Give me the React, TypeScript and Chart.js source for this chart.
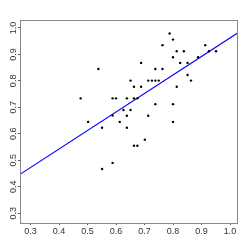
import React, { useEffect, useRef } from "react";
import { Chart, registerables } from "chart.js";

Chart.register(...registerables);

const XS = [
  0.476, 0.502, 0.538, 0.551, 0.551, 0.588, 0.6, 0.588, 0.588, 0.613,
  0.626, 0.638, 0.638, 0.638, 0.651, 0.651, 0.663, 0.663, 0.675, 0.663,
  0.675, 0.688, 0.688, 0.701, 0.713, 0.713, 0.726, 0.738, 0.75, 0.738,
  0.738, 0.763, 0.763, 0.788, 0.8, 0.8, 0.8, 0.8, 0.813, 0.813,
  0.825, 0.838, 0.851, 0.851, 0.863, 0.888, 0.913, 0.926, 0.951,
];
const YS = [
  0.734, 0.645, 0.845, 0.623, 0.467, 0.734, 0.734, 0.669, 0.49, 0.645,
  0.69, 0.734, 0.668, 0.623, 0.801, 0.69, 0.778, 0.734, 0.734, 0.555,
  0.555, 0.868, 0.778, 0.578, 0.801, 0.668, 0.801, 0.801, 0.801, 0.845,
  0.712, 0.935, 0.845, 0.979, 0.956, 0.889, 0.712, 0.645, 0.912, 0.778,
  0.868, 0.912, 0.868, 0.822, 0.801, 0.889, 0.935, 0.912, 0.912,
];
const INTERCEPT = 0.263;
const SLOPE = 0.699;
const X_TICKS = [0.3, 0.4, 0.5, 0.6, 0.7, 0.8, 0.9, 1.0];
const Y_TICKS = [0.3, 0.4, 0.5, 0.6, 0.7, 0.8, 0.9, 1.0];
const X_RANGE = [0.263, 1.028];
const Y_RANGE = [0.263, 1.03];

const FONT = "'Liberation Sans', Arial, sans-serif";
const TEXT_COLOR = "#333333";

export default function App() {
  const ref = useRef<HTMLCanvasElement | null>(null);
  useEffect(() => {
    if (!ref.current) return;
    const points = XS.map((x, i) => ({ x, y: YS[i] }));
    const line = X_RANGE.map((x) => ({ x, y: INTERCEPT + SLOPE * x }));

    const boxPlugin = {
      id: "box",
      afterDraw(chart: any) {
        const { ctx, chartArea } = chart;
        const ys = chart.scales.y;
        ctx.save();
        ctx.strokeStyle = "#888888";
        ctx.lineWidth = 1;
        ctx.strokeRect(
          Math.round(chartArea.left) + 0.5,
          Math.round(chartArea.top) + 0.5,
          Math.round(chartArea.right - chartArea.left) - 1,
          Math.round(chartArea.bottom - chartArea.top)
        );
        // y labels rotated like R
        ctx.fillStyle = TEXT_COLOR;
        ctx.font = `9px ${FONT}`;
        ctx.textAlign = "center";
        ctx.textBaseline = "middle";
        ctx.strokeStyle = "#555555";
        Y_TICKS.forEach((v) => {
          const py = ys.getPixelForValue(v);
          ctx.save();
          ctx.translate(14, py);
          ctx.rotate(-Math.PI / 2);
          ctx.fillText(v.toFixed(1), 0, 0);
          ctx.restore();
        });
        ctx.restore();
      },
    };

    const chart = new Chart(ref.current, {
      type: "scatter",
      data: {
        datasets: [
          {
            data: points,
            backgroundColor: "#000000",
            borderColor: "#000000",
            pointRadius: 1.2,
            pointBorderWidth: 0,
            order: 1,
          },
          {
            type: "line",
            data: line,
            borderColor: "#0000ff",
            borderWidth: 1.2,
            pointRadius: 0,
            showLine: true,
            fill: false,
            order: 2,
          } as any,
        ],
      },
      options: {
        animation: false,
        responsive: false,
        events: [],
        layout: { padding: { top: 20, right: 11, left: 0, bottom: 0 } },
        plugins: { legend: { display: false }, tooltip: { enabled: false } },
        scales: {
          x: {
            type: "linear",
            min: X_RANGE[0],
            max: X_RANGE[1],
            afterBuildTicks: (s: any) => {
              s.ticks = X_TICKS.map((v) => ({ value: v }));
            },
            afterFit: (s: any) => {
              s.height = 26;
            },
            grid: {
              drawOnChartArea: false,
              drawTicks: true,
              tickLength: 2,
              color: "#555555",
            },
            border: { display: false },
            ticks: {
              autoSkip: false,
              maxRotation: 0,
              padding: 1,
              color: TEXT_COLOR,
              font: { family: FONT, size: 9 },
              callback: (v: any) => Number(v).toFixed(1),
            },
          },
          y: {
            type: "linear",
            min: Y_RANGE[0],
            max: Y_RANGE[1],
            afterBuildTicks: (s: any) => {
              s.ticks = Y_TICKS.map((v) => ({ value: v }));
            },
            afterFit: (s: any) => {
              s.width = 20;
            },
            grid: {
              drawOnChartArea: false,
              drawTicks: true,
              tickLength: 2,
              color: "#555555",
            },
            border: { display: false },
            ticks: { display: false },
          },
        },
      },
      plugins: [boxPlugin],
    });
    return () => chart.destroy();
  }, []);
  return (
    <div style={{ position: "fixed", left: 0, top: 0, width: 249, height: 249, background: "#fff" }}>
      <canvas ref={ref} width={249} height={249} style={{ width: 249, height: 249 }} />
    </div>
  );
}
